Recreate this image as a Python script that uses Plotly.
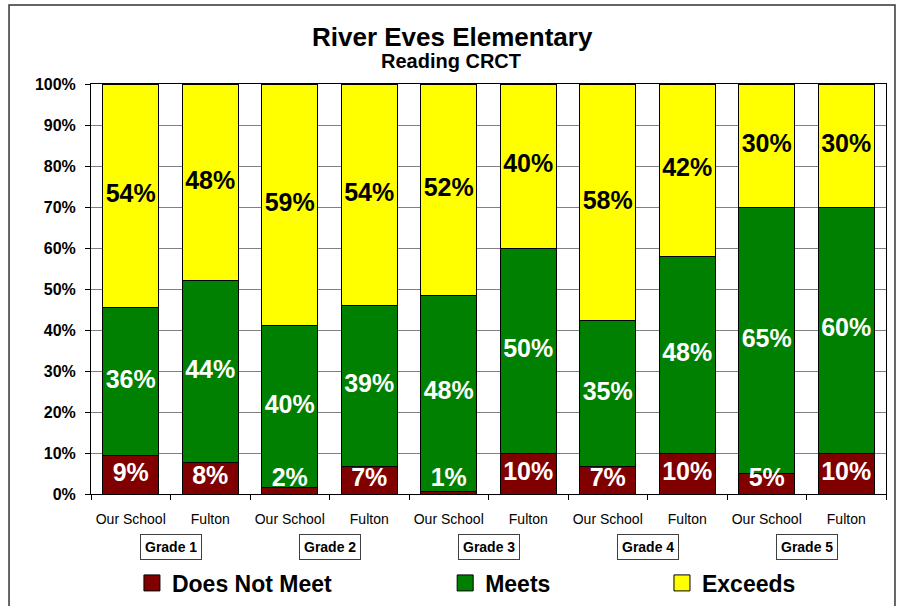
import plotly.graph_objects as go

# ---- data ----
schools = ["Our School", "Fulton", "Our School", "Fulton", "Our School",
           "Fulton", "Our School", "Fulton", "Our School", "Fulton"]
grades = ["Grade 1", "Grade 2", "Grade 3", "Grade 4", "Grade 5"]
does_not_meet = [9.3, 7.7, 1.5, 6.8, 0.7, 10.0, 6.8, 10.0, 4.9, 10.0]
meets = [36.3, 44.3, 39.7, 39.2, 47.8, 50.0, 35.4, 48.0, 64.9, 60.0]
exceeds = [54.4, 48.0, 58.8, 54.0, 51.5, 40.0, 57.8, 42.0, 30.2, 30.0]
y_ticks = [0, 10, 20, 30, 40, 50, 60, 70, 80, 90, 100]

FONT = "Liberation Sans, Arial, sans-serif"
xpos = list(range(len(schools)))

series = [
    ("Does Not Meet", does_not_meet, "#800000", "white", "legend"),
    ("Meets", meets, "#008000", "white", "legend2"),
    ("Exceeds", exceeds, "#FFFF00", "black", "legend3"),
]

fig = go.Figure()
base = [0.0] * len(schools)
label_traces = []
legend_traces = []
for name, vals, color, tcolor, leg in series:
    fig.add_trace(go.Bar(
        x=xpos, y=vals, name=name, showlegend=False,
        marker=dict(color=color, line=dict(color="black", width=1)),
        hoverinfo="skip",
    ))
    # legend entry (larger square swatch like the original)
    legend_traces.append(go.Scatter(
        x=[None], y=[None], mode="markers", name=name, legend=leg,
        marker=dict(symbol="square", size=16, color=color,
                    line=dict(color="black", width=1)),
        hoverinfo="skip",
    ))
    ys = [max(b + v / 2.0, 3.5) for b, v in zip(base, vals)]
    label_traces.append(go.Scatter(
        x=xpos, y=ys, mode="text",
        text=[f"{int(v + 0.5)}%" for v in vals],
        textposition="middle center",
        textfont=dict(family=FONT, size=25, color=tcolor, weight="bold"),
        showlegend=False, hoverinfo="skip", cliponaxis=False,
    ))
    base = [b + v for b, v in zip(base, vals)]

for t in label_traces + legend_traces:
    fig.add_trace(t)

annotations = [
    dict(text="<b>River Eves Elementary</b>", x=0.4553, y=1.115, xref="paper", yref="paper",
         xanchor="center", yanchor="middle", showarrow=False,
         font=dict(family=FONT, size=26, color="black")),
    dict(text="<b>Reading CRCT</b>", x=0.4525, y=1.055, xref="paper", yref="paper",
         xanchor="center", yanchor="middle", showarrow=False,
         font=dict(family=FONT, size=20, color="black")),
]
for i, g in enumerate(grades):
    annotations.append(dict(
        text=f"<b>{g}</b>", x=2 * i + 0.5, y=-0.129, xref="x", yref="paper",
        xanchor="center", yanchor="middle", showarrow=False,
        font=dict(family=FONT, size=14, color="black"),
        bordercolor="#404040", borderwidth=1, borderpad=4, bgcolor="white"))

leg_common = dict(orientation="h", yanchor="middle", y=-0.217, xanchor="left",
                  bgcolor="rgba(0,0,0,0)",
                  font=dict(family=FONT, size=23, color="black", weight="bold"))

fig.update_layout(
    template="none",
    width=898, height=606,
    margin=dict(l=91, r=12, t=84, b=112, autoexpand=False),
    paper_bgcolor="white", plot_bgcolor="white",
    barmode="stack", bargap=0.3,
    showlegend=True,
    legend=dict(x=0.0515, **leg_common),
    legend2=dict(x=0.4455, **leg_common),
    legend3=dict(x=0.7182, **leg_common),
    annotations=annotations,
    shapes=[dict(type="rect", xref="paper", yref="paper",
                 x0=-0.1031, x1=1.0113, y0=-0.32, y1=1.1927,
                 line=dict(color="#333333", width=1.5), layer="above")],
    xaxis=dict(
        automargin=False,
        range=[-0.5, len(schools) - 0.5],
        tickmode="array", tickvals=xpos, ticktext=schools,
        ticks="", ticklabelstandoff=12,
        tickfont=dict(family=FONT, size=14, color="black"),
        showgrid=False, zeroline=False,
        showline=True, linecolor="black", linewidth=1, mirror=True,
        minor=dict(tickmode="array", tickvals=[i - 0.5 for i in range(len(schools) + 1)],
                   ticks="outside", ticklen=5, tickcolor="black", showgrid=False),
        fixedrange=True,
    ),
    yaxis=dict(
        automargin=False,
        range=[0, 100], tickmode="array", tickvals=y_ticks,
        ticktext=[f"{v}%" for v in y_ticks],
        ticks="outside", ticklen=5, tickcolor="black", ticklabelstandoff=6,
        tickfont=dict(family=FONT, size=16, color="black", weight="bold"),
        showgrid=True, gridcolor="#808080", gridwidth=1, zeroline=False,
        showline=True, linecolor="black", linewidth=1, mirror=True,
        fixedrange=True,
    ),
)

fig.write_html("out.html",
               config={"displayModeBar": False},
               post_script="document.body.style.margin='0';document.body.style.overflow='hidden';")
